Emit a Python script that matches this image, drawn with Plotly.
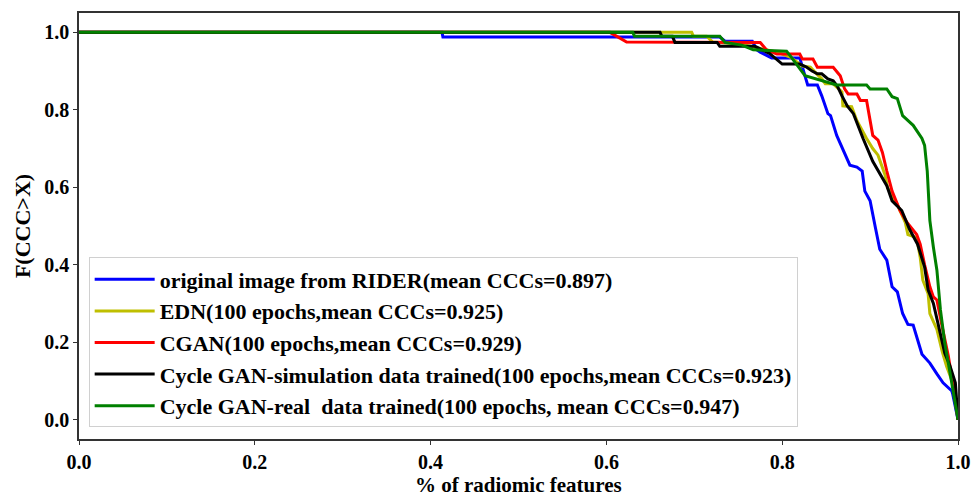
import plotly.graph_objects as go

# --- data ---
blue_x = [0, 0.413, 0.414, 0.729, 0.735, 0.766, 0.771, 0.775, 0.788, 0.820, 0.826, 0.829, 0.840, 0.845,
          0.852, 0.855, 0.862, 0.877, 0.885, 0.891, 0.894, 0.900, 0.906, 0.911, 0.919, 0.925, 0.931,
          0.937, 0.943, 0.949, 0.959, 0.968, 0.976, 0.983, 0.993, 0.994, 1.0]
blue_y = [1.0, 1.0, 0.988, 0.988, 0.977, 0.977, 0.955, 0.949, 0.934, 0.934, 0.887, 0.864, 0.864, 0.836,
          0.79, 0.785, 0.734, 0.657, 0.652, 0.642, 0.59, 0.565, 0.496, 0.44, 0.412, 0.343, 0.33,
          0.274, 0.246, 0.244, 0.169, 0.146, 0.118, 0.095, 0.074, 0.066, 0.0]

edn_x = [0, 0.697, 0.699, 0.714, 0.721, 0.744, 0.752, 0.794, 0.809, 0.823, 0.832, 0.837, 0.845, 0.849,
         0.858, 0.868, 0.869, 0.879, 0.885, 0.896, 0.903, 0.909, 0.917, 0.920, 0.931, 0.940, 0.943,
         0.953, 0.957, 0.960, 0.966, 0.968, 0.976, 0.982, 0.987, 0.994, 0.999, 1.0]
edn_y = [1.0, 1.0, 0.99, 0.99, 0.975, 0.97, 0.97, 0.949, 0.936, 0.913, 0.91, 0.898, 0.88, 0.867,
         0.867, 0.846, 0.81, 0.808, 0.772, 0.726, 0.70, 0.683, 0.632, 0.598, 0.555, 0.509, 0.478,
         0.47, 0.419, 0.36, 0.325, 0.274, 0.233, 0.176, 0.138, 0.095, 0.028, 0.0]

cgan_x = [0, 0.604, 0.623, 0.775, 0.782, 0.794, 0.820, 0.823, 0.835, 0.840, 0.858, 0.866, 0.871, 0.875,
          0.885, 0.889, 0.896, 0.900, 0.903, 0.909, 0.914, 0.919, 0.925, 0.934, 0.942, 0.953, 0.957,
          0.962, 0.968, 0.972, 0.976, 0.982, 0.989, 0.994, 1.0]
cgan_y = [1.0, 1.0, 0.975, 0.974, 0.955, 0.944, 0.944, 0.931, 0.931, 0.91, 0.91, 0.888, 0.854, 0.841,
          0.841, 0.824, 0.824, 0.778, 0.734, 0.722, 0.69, 0.642, 0.59, 0.54, 0.509, 0.478, 0.453,
          0.40, 0.343, 0.317, 0.309, 0.24, 0.164, 0.095, 0.0]

sim_x = [0, 0.661, 0.663, 0.675, 0.678, 0.726, 0.729, 0.769, 0.786, 0.800, 0.820, 0.828, 0.834, 0.840,
         0.845, 0.852, 0.858, 0.863, 0.868, 0.874, 0.881, 0.886, 0.892, 0.903, 0.914, 0.919, 0.925,
         0.936, 0.945, 0.954, 0.962, 0.966, 0.972, 0.980, 0.985, 0.991, 0.997, 1.0]
sim_y = [1.0, 1.0, 0.99, 0.99, 0.974, 0.974, 0.964, 0.964, 0.945, 0.918, 0.918, 0.91, 0.90, 0.893,
         0.893, 0.88, 0.875, 0.86, 0.836, 0.81, 0.79, 0.76, 0.726, 0.667, 0.624, 0.604, 0.565,
         0.54, 0.491, 0.453, 0.394, 0.335, 0.30, 0.215, 0.171, 0.138, 0.095, 0.0]

real_x = [0, 0.630, 0.632, 0.729, 0.735, 0.754, 0.767, 0.805, 0.809, 0.818, 0.826, 0.862, 0.896, 0.900,
          0.919, 0.925, 0.931, 0.937, 0.949, 0.959, 0.962, 0.965, 0.968, 0.972, 0.976, 0.980, 0.985,
          0.991, 0.997, 1.0]
real_y = [1.0, 1.0, 0.99, 0.99, 0.974, 0.967, 0.955, 0.951, 0.94, 0.913, 0.888, 0.864, 0.864, 0.854,
          0.854, 0.834, 0.829, 0.785, 0.76, 0.726, 0.708, 0.642, 0.514, 0.445, 0.386, 0.284, 0.197,
          0.12, 0.043, 0.0]

names = [
    "original image from RIDER(mean CCCs=0.897)",
    "EDN(100 epochs,mean CCCs=0.925)",
    "CGAN(100 epochs,mean CCCs=0.929)",
    "Cycle GAN-simulation data trained(100 epochs,mean CCCs=0.923)",
    "Cycle GAN-real  data trained(100 epochs, mean CCCs=0.947)",
]
colors = ["#0000ff", "#bfbf00", "#ff0000", "#000000", "#008000"]
series = [(blue_x, blue_y), (edn_x, edn_y), (cgan_x, cgan_y), (sim_x, sim_y), (real_x, real_y)]

x_ticks = [0.0, 0.2, 0.4, 0.6, 0.8, 1.0]
y_ticks = [0.0, 0.2, 0.4, 0.6, 0.8, 1.0]
x_title = "% of radiomic features"
y_title = "F(CCC>X)"

FONT = "Liberation Serif"
FS = 22
TICK_FS = 20

fig = go.Figure()
for (xs, ys), nm, c in zip(series, names, colors):
    fig.add_trace(go.Scatter(x=xs, y=ys, mode="lines", name=nm.replace("  ", "&nbsp; "),
                             line=dict(color=c, width=3)))

axis_common = dict(
    showline=True, linecolor="#333333", linewidth=1.5, mirror=True,
    ticks="outside", ticklen=4, tickwidth=1.2, tickcolor="#333333",
    showgrid=False, zeroline=False, automargin=False,
    tickfont=dict(family=FONT, size=TICK_FS, color="black", weight="bold"),
    tickformat=".1f",
)

fig.update_layout(
    width=972, height=498,
    margin=dict(l=79, r=14, t=13, b=59),
    paper_bgcolor="white", plot_bgcolor="white",
    xaxis=dict(range=[0, 1], tickvals=x_ticks, **axis_common),
    yaxis=dict(range=[-0.05, 1.05], tickvals=y_ticks,
               title=dict(text=y_title, standoff=8,
                          font=dict(family=FONT, size=FS, color="black", weight="bold")),
               **axis_common),
    legend=dict(x=0.011, y=0.027, xanchor="left", yanchor="bottom",
                bgcolor="rgba(255,255,255,0.8)", bordercolor="#d0d0d0", borderwidth=1,
                font=dict(family=FONT, size=FS, color="black", weight="bold"),
                itemwidth=60, traceorder="normal"),
    showlegend=True,
    annotations=[dict(text=x_title, xref="paper", yref="paper", x=0.5, y=-0.139,
                      xanchor="center", yanchor="bottom", showarrow=False, borderpad=0,
                      font=dict(family=FONT, size=21, color="black", weight="bold"))],
)

fig.write_html("out.html")
